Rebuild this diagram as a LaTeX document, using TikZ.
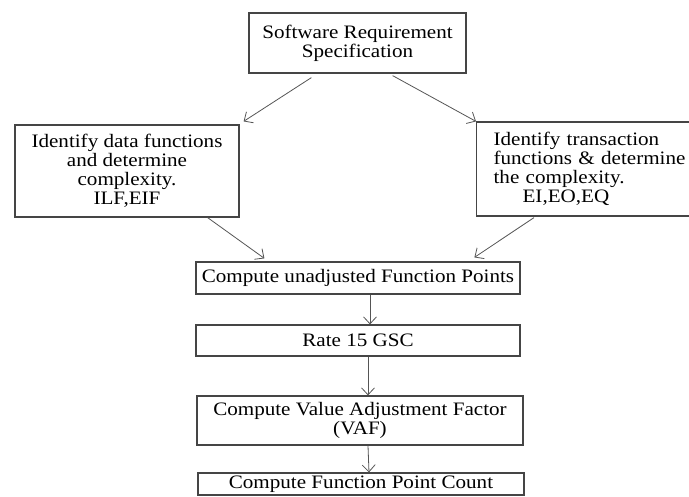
\documentclass[tikz,border=0pt]{standalone}
\usepackage{fontspec}
\setmainfont{Liberation Serif}[FakeStretch=1.11]
\usetikzlibrary{arrows.meta,calc}
\definecolor{boxgray}{HTML}{454545}
\definecolor{arrgray}{HTML}{555555}
\begin{document}
\begin{tikzpicture}[x=1pt,y=-1pt,
  box/.style={draw=boxgray, line width=1.2pt, inner sep=0pt, align=center,
    font=\fontsize{19}{19}\selectfont},
  arr/.style={draw=arrgray, line width=0.8pt, -{Straight Barb[length=7pt,width=13pt]}}]
\useasboundingbox (0,0) rectangle (689,496);
\clip (0,0) rectangle (689,496);
\fill[white] (0,0) rectangle (689,496);
\node[box, minimum width=217pt, minimum height=60pt] (srs) at (357.5,43)
  {Software Requirement\\Specification};
\node[box, minimum width=224pt, minimum height=92pt] (ldata) at (127,171)
  {Identify data functions\\and determine\\complexity.\\ILF,EIF};
\node[box, minimum width=224pt, minimum height=94pt, text width=207pt,
  inner xsep=17pt, align=left, anchor=west] (rtrans) at (476,169)
  {Identify transaction\\functions \& determine\\the complexity.\\\hspace*{29pt}EI,EO,EQ};
\node[box, minimum width=324pt, minimum height=32pt] (cufp) at (358,278)
  {Compute unadjusted Function Points};
\node[box, minimum width=324pt, minimum height=31pt] (gsc) at (358,340.5)
  {Rate 15 GSC};
\node[box, minimum width=326pt, minimum height=49pt] (vaf) at (360,420.5)
  {Compute Value Adjustment Factor\\(VAF)};
\node[box, minimum width=326pt, minimum height=22pt] (fpc) at (361,484)
  {Compute Function Point Count};
\draw[arr] ($(srs.south west)+(63,4)$) -- ($(ldata.north east)+(4,-3)$);
\draw[arr] ($(srs.south east)+(-74,2)$) -- (rtrans.north west);
\draw[arr] ($(ldata.south east)+(-32,0)$) -- ($(cufp.north west)+(69,-3)$);
\draw[arr] ($(rtrans.south west)+(58,1)$) -- ($(cufp.north west)+(279,-4)$);
\draw[arr] ([xshift=12pt]cufp.south) -- ([xshift=12pt]gsc.north);
\draw[arr] ([xshift=10pt]gsc.south) -- ([xshift=8pt]vaf.north);
\draw[arr] ([xshift=8pt]vaf.south) -- ([xshift=8pt]fpc.north);
\end{tikzpicture}
\end{document}
